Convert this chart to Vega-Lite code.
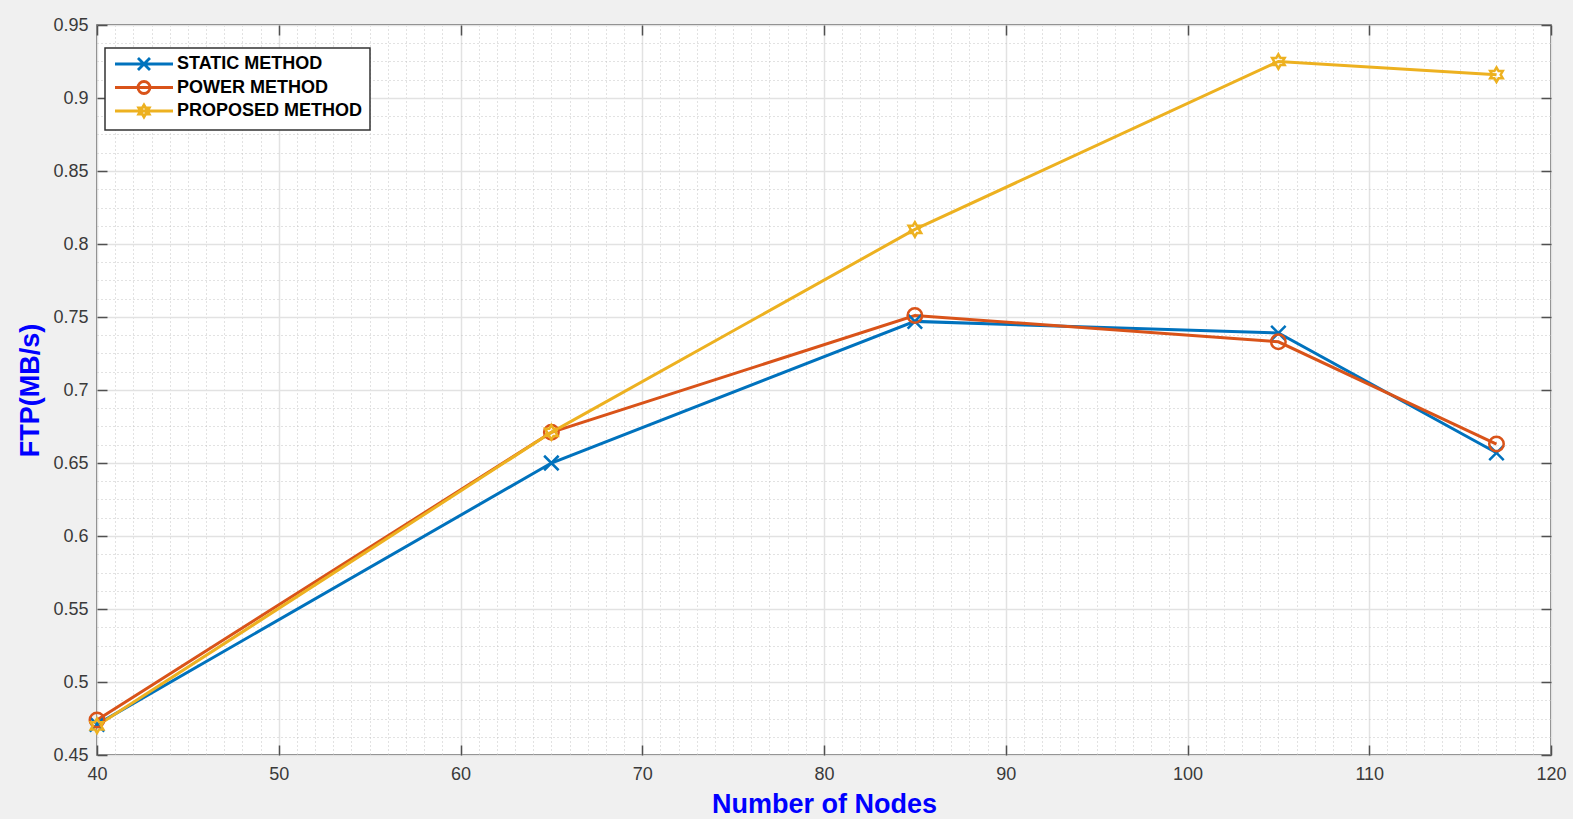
{
  "$schema": "https://vega.github.io/schema/vega-lite/v6.json",
  "width": 1454,
  "height": 730,
  "autosize": {"type": "none"},
  "padding": {"left": 97, "top": 25, "right": 22, "bottom": 64},
  "background": "#f0f0f0",
  "config": {
    "font": "Liberation Sans",
    "view": {"fill": "white", "stroke": "#505050", "strokeWidth": 1.5},
    "legend": {"strokeWidth": 1.5}
  },
  "data": {
    "values": [
      {"n": 40, "ftp": 0.471, "method": "STATIC METHOD"},
      {"n": 65, "ftp": 0.650, "method": "STATIC METHOD"},
      {"n": 85, "ftp": 0.747, "method": "STATIC METHOD"},
      {"n": 105, "ftp": 0.739, "method": "STATIC METHOD"},
      {"n": 117, "ftp": 0.657, "method": "STATIC METHOD"},
      {"n": 40, "ftp": 0.474, "method": "POWER METHOD"},
      {"n": 65, "ftp": 0.671, "method": "POWER METHOD"},
      {"n": 85, "ftp": 0.751, "method": "POWER METHOD"},
      {"n": 105, "ftp": 0.733, "method": "POWER METHOD"},
      {"n": 117, "ftp": 0.663, "method": "POWER METHOD"},
      {"n": 40, "ftp": 0.470, "method": "PROPOSED METHOD"},
      {"n": 65, "ftp": 0.671, "method": "PROPOSED METHOD"},
      {"n": 85, "ftp": 0.810, "method": "PROPOSED METHOD"},
      {"n": 105, "ftp": 0.925, "method": "PROPOSED METHOD"},
      {"n": 117, "ftp": 0.916, "method": "PROPOSED METHOD"}
    ]
  },
  "layer": [
    {
      "mark": {"type": "point", "opacity": 0},
      "encoding": {
        "x": {"field": "n", "type": "quantitative", "scale": {"domain": [40, 120], "nice": false, "zero": false},
          "axis": {"orient": "bottom", "offset": 0, "title": null, "labels": false, "ticks": false, "domain": false, "grid": true, "gridColor": "#c4c4c4", "gridDash": [1, 3], "gridWidth": 1,
            "values": [41,42,43,44,45,46,47,48,49,51,52,53,54,55,56,57,58,59,61,62,63,64,65,66,67,68,69,71,72,73,74,75,76,77,78,79,81,82,83,84,85,86,87,88,89,91,92,93,94,95,96,97,98,99,101,102,103,104,105,106,107,108,109,111,112,113,114,115,116,117,118,119]}},
        "y": {"field": "ftp", "type": "quantitative", "scale": {"domain": [0.45, 0.95], "nice": false, "zero": false},
          "axis": {"orient": "left", "offset": 0, "title": null, "labels": false, "ticks": false, "domain": false, "grid": true, "gridColor": "#c4c4c4", "gridDash": [1, 3], "gridWidth": 1,
            "values": [0.4625,0.475,0.4875,0.5125,0.525,0.5375,0.5625,0.575,0.5875,0.6125,0.625,0.6375,0.6625,0.675,0.6875,0.7125,0.725,0.7375,0.7625,0.775,0.7875,0.8125,0.825,0.8375,0.8625,0.875,0.8875,0.9125,0.925,0.9375]}}
      }
    },
    {
      "mark": {"type": "point", "opacity": 0},
      "encoding": {
        "x": {"field": "n", "type": "quantitative", "scale": {"domain": [40, 120], "nice": false, "zero": false},
          "axis": {"orient": "top", "offset": 0, "title": null, "labels": false, "ticks": true, "tickSize": -10, "tickColor": "#505050", "tickWidth": 1.5, "domain": false, "grid": false,
            "values": [40,50,60,70,80,90,100,110,120]}},
        "y": {"field": "ftp", "type": "quantitative", "scale": {"domain": [0.45, 0.95], "nice": false, "zero": false},
          "axis": {"orient": "right", "offset": 0, "title": null, "labels": false, "ticks": true, "tickSize": -10, "tickColor": "#505050", "tickWidth": 1.5, "domain": false, "grid": false,
            "values": [0.45,0.5,0.55,0.6,0.65,0.7,0.75,0.8,0.85,0.9,0.95]}}
      }
    },
    {
      "mark": {"type": "line", "strokeWidth": 3},
      "encoding": {
        "x": {"field": "n", "type": "quantitative", "scale": {"domain": [40, 120], "nice": false, "zero": false},
          "axis": {"orient": "bottom", "offset": 0, "title": "Number of Nodes", "titleColor": "#0000FF", "titleFontSize": 27, "titleFontWeight": "bold", "titlePadding": 8,
            "labelFontSize": 18, "labelColor": "#3a3a3a", "labelPadding": 20, "labelFlush": false, "labelOverlap": false, "ticks": true, "tickSize": -10, "tickColor": "#505050", "tickWidth": 1.5, "domain": false,
            "grid": true, "gridColor": "#e2e2e2", "gridWidth": 1.5,
            "values": [40,50,60,70,80,90,100,110,120]}},
        "y": {"field": "ftp", "type": "quantitative", "scale": {"domain": [0.45, 0.95], "nice": false, "zero": false},
          "axis": {"orient": "left", "offset": 0, "title": "FTP(MB/s)", "titleColor": "#0000FF", "titleFontSize": 27, "titleFontWeight": "bold", "titlePadding": 8,
            "labelFontSize": 18, "labelColor": "#3a3a3a", "labelPadding": 19, "labelFlush": false, "labelOverlap": false, "format": ".2~f", "ticks": true, "tickSize": -10, "tickColor": "#505050", "tickWidth": 1.5, "domain": false,
            "grid": true, "gridColor": "#e2e2e2", "gridWidth": 1.5,
            "values": [0.45,0.5,0.55,0.6,0.65,0.7,0.75,0.8,0.85,0.9,0.95]}},
        "color": {"field": "method", "type": "nominal",
          "scale": {"domain": ["STATIC METHOD", "POWER METHOD", "PROPOSED METHOD"], "range": ["#0072BD", "#D95319", "#EDB120"]},
          "legend": {
            "orient": "none", "legendX": 8, "legendY": 23, "title": null,
            "labelFontSize": 18, "labelFontWeight": "bold", "labelColor": "black", "labelLimit": 0,
            "symbolSize": 144, "labelOffset": 47, "rowPadding": -0.5, "padding": 7,
            "strokeColor": "#333333", "fillColor": "white", "symbolStrokeWidth": 2.8, "symbolFillColor": "transparent",
            "encoding": {"symbols": {
              "shape": {"value": {"expr": "datum.value === 'STATIC METHOD' ? 'M-1,0H8.67M2.83,-1L4.83,1M2.83,1L4.83,-1' : datum.value === 'POWER METHOD' ? 'M-1,0H8.67M4.83,0A1,1 0 1,1 2.83,0A1,1 0 1,1 4.83,0' : 'M-1,0H8.67M3.83,-1L4.119,-0.5L4.696,-0.5L4.407,0L4.696,0.5L4.119,0.5L3.83,1L3.541,0.5L2.964,0.5L3.253,0L2.964,-0.5L3.541,-0.5Z'"}},
              "fill": {"value": "transparent"},
              "strokeWidth": {"value": 2.8}}}
          }}
      }
    },
    {
      "transform": [{"filter": "datum.method === 'STATIC METHOD'"}],
      "mark": {"type": "point", "filled": false, "strokeWidth": 2.5, "size": 210, "opacity": 1, "color": "#0072BD", "shape": "M-1,-1L1,1M-1,1L1,-1"},
      "encoding": {
        "x": {"field": "n", "type": "quantitative", "axis": null},
        "y": {"field": "ftp", "type": "quantitative", "axis": null}
      }
    },
    {
      "transform": [{"filter": "datum.method === 'POWER METHOD'"}],
      "mark": {"type": "point", "filled": false, "strokeWidth": 2.5, "size": 210, "opacity": 1, "color": "#D95319", "shape": "circle"},
      "encoding": {
        "x": {"field": "n", "type": "quantitative", "axis": null},
        "y": {"field": "ftp", "type": "quantitative", "axis": null}
      }
    },
    {
      "transform": [{"filter": "datum.method === 'PROPOSED METHOD'"}],
      "mark": {"type": "point", "filled": false, "strokeWidth": 2.5, "size": 210, "opacity": 1, "color": "#EDB120", "shape": "M0,-1L0.289,-0.5L0.866,-0.5L0.577,0L0.866,0.5L0.289,0.5L0,1L-0.289,0.5L-0.866,0.5L-0.577,0L-0.866,-0.5L-0.289,-0.5Z"},
      "encoding": {
        "x": {"field": "n", "type": "quantitative", "axis": null},
        "y": {"field": "ftp", "type": "quantitative", "axis": null}
      }
    }
  ],
  "resolve": {"axis": {"x": "independent", "y": "independent"}}
}
